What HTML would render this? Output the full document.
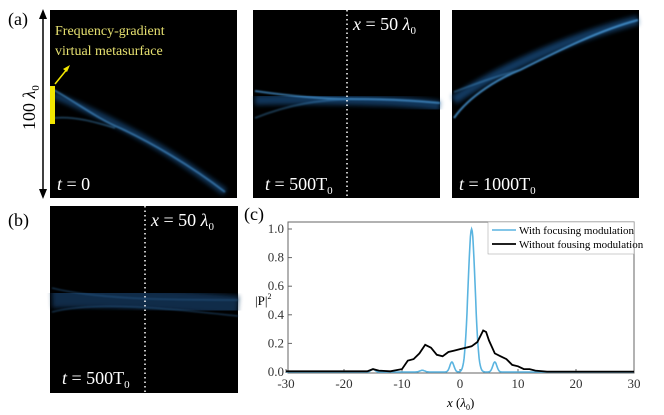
<!DOCTYPE html><html><head><style>
body{margin:0;background:#fff;width:664px;height:410px;overflow:hidden;font-family:"Liberation Serif","Times New Roman",Times,serif}
svg,svg text,svg tspan{font-family:"Liberation Serif","Times New Roman",Times,serif}
</style></head><body>
<svg id="s" width="664" height="410" viewBox="0 0 664 410" xmlns="http://www.w3.org/2000/svg" font-family="'Liberation Serif','Times New Roman',serif">
<defs>
<filter id="b1" x="-20%" y="-50%" width="140%" height="200%"><feGaussianBlur stdDeviation="2.5"/></filter>
<filter id="b2" x="-20%" y="-50%" width="140%" height="200%"><feGaussianBlur stdDeviation="0.8"/></filter>
</defs>
<rect x="50" y="10" width="187" height="188" fill="#000"/>
<g filter="url(#b1)" stroke="#1d5a96" fill="none" stroke-width="7" opacity="0.6">
<path d="M54 95 C90 110,130 130,160 148 C185 163,205 178,225 192"/></g>
<g filter="url(#b2)" stroke="#4c9ddc" fill="none" stroke-width="1.8">
<path d="M54 90 C80 105,100 120,120 128 C150 142,190 165,225 192" opacity="0.6"/>
<path d="M54 118 C75 116,95 122,115 128" opacity="0.4"/></g>
<rect x="50" y="86" width="5" height="38" fill="#f2e600"/>
<line x1="55" y1="84" x2="68" y2="68" stroke="#f2e600" stroke-width="1.5"/>
<polygon points="70,65 63,69 67,72" fill="#f2e600"/>
<text x="55" y="35" fill="#e6e070" font-size="14">Frequency-gradient</text>
<text x="55" y="55" fill="#e6e070" font-size="14">virtual metasurface</text>
<text x="57" y="190" fill="#fff" font-size="18"><tspan font-style="italic">t</tspan> = 0</text>
<line x1="43" y1="16" x2="43" y2="192" stroke="#000" stroke-width="1.5"/>
<polygon points="43,9 39,19 47,19" fill="#000"/><polygon points="43,199 39,189 47,189" fill="#000"/>
<text transform="translate(35,130) rotate(-90)" font-size="18" fill="#000">100 <tspan font-style="italic">λ</tspan><tspan font-size="11" dy="4">0</tspan></text>
<text x="8" y="25" font-size="18">(a)</text>
<rect x="253" y="10" width="187" height="188" fill="#000"/>
<g filter="url(#b1)" stroke="#1d5a96" fill="none" stroke-width="10" opacity="0.6">
<path d="M255 100 C300 99,400 99,440 106"/></g>
<g filter="url(#b2)" stroke="#4c9ddc" fill="none" stroke-width="2" opacity="0.7">
<path d="M255 91 C290 96,320 99,350 99 C380 99,410 100,440 103"/>
<path d="M255 118 C290 104,320 100,350 99" opacity="0.5"/></g>
<line x1="347" y1="10" x2="347" y2="198" stroke="#fff" stroke-width="1.5" stroke-dasharray="1.5,3"/>
<text x="353" y="30" fill="#fff" font-size="18"><tspan font-style="italic">x</tspan> = 50 <tspan font-style="italic">λ</tspan><tspan font-size="11" dy="4">0</tspan></text>
<text x="265" y="190" fill="#fff" font-size="18"><tspan font-style="italic">t</tspan> = 500T<tspan font-size="11" dy="4">0</tspan></text>
<rect x="452" y="10" width="187" height="188" fill="#000"/>
<g filter="url(#b1)" stroke="#1d5a96" fill="none" stroke-width="9" opacity="0.65">
<path d="M454 100 C490 75,560 40,638 20"/></g>
<g filter="url(#b2)" stroke="#4c9ddc" fill="none" stroke-width="2" opacity="0.8">
<path d="M454 118 C470 95,500 78,520 70 C560 50,600 30,638 20"/>
<path d="M454 92 C480 82,500 75,520 70" opacity="0.5"/></g>
<text x="459" y="190" fill="#fff" font-size="18"><tspan font-style="italic">t</tspan> = 1000T<tspan font-size="11" dy="4">0</tspan></text>
<rect x="50" y="206" width="188" height="187" fill="#000"/>
<g filter="url(#b1)" stroke="#123a62" fill="none" stroke-width="20" opacity="0.75">
<path d="M52 298 C100 296,180 300,238 306"/></g>
<g filter="url(#b2)" stroke="#2a5f8f" fill="none" stroke-width="1.5" opacity="0.5">
<path d="M52 288 C100 300,180 300,238 300"/><path d="M52 312 C100 300,180 310,238 316"/></g>
<line x1="145" y1="206" x2="145" y2="393" stroke="#fff" stroke-width="1.5" stroke-dasharray="1.5,3"/>
<text x="151" y="226" fill="#fff" font-size="18"><tspan font-style="italic">x</tspan> = 50 <tspan font-style="italic">λ</tspan><tspan font-size="11" dy="4">0</tspan></text>
<text x="62" y="384" fill="#fff" font-size="18"><tspan font-style="italic">t</tspan> = 500T<tspan font-size="11" dy="4">0</tspan></text>
<text x="8" y="226" font-size="18">(b)</text>
<text x="244" y="220" font-size="18">(c)</text>
<rect x="288" y="222" width="346" height="151" fill="none" stroke="#666" stroke-width="1"/>
<g id="ticks" font-size="13" fill="#333"></g>
<text x="255" y="305" font-size="13">|P|<tspan font-size="8" dy="-6">2</tspan></text>
<text x="447" y="407" font-size="13"><tspan font-style="italic">x</tspan> (<tspan font-style="italic">λ</tspan><tspan font-size="8" dy="3">0</tspan><tspan dy="-3">)</tspan></text>
<path id="bl" fill="none" stroke="#5ab4e0" stroke-width="1.6"/>
<path id="bk" fill="none" stroke="#000" stroke-width="1.8"/>
<rect x="488" y="222" width="146" height="32" fill="#fff" stroke="#999" stroke-width="0.5"/>
<line x1="492" y1="230" x2="516" y2="230" stroke="#5ab4e0" stroke-width="1.6"/>
<text x="519" y="234" font-size="11">With focusing modulation</text>
<line x1="492" y1="244" x2="516" y2="244" stroke="#000" stroke-width="1.8"/>
<text x="519" y="248" font-size="11">Without fousing modulation</text>
</svg>
<script>
var X=v=>460+v*5.8,Y=v=>372-v*143;
var bk=[[-30,.005],[-20,.005],[-16,.005],[-15,.02],[-14,.01],[-12,.005],[-10,.02],[-9,.08],[-8,.09],[-7,.13],[-6,.19],[-5,.17],[-4,.12],[-3,.11],[-2,.14],[-1,.15],[0,.16],[1,.17],[2,.18],[3,.21],[4,.29],[4.5,.28],[5,.22],[6,.13],[7,.11],[8,.09],[9,.05],[10,.04],[11,.02],[12,.02],[13,.01],[15,.003],[30,.003]];
function p(a){return a.map((q,i)=>(i?'L':'M')+X(q[0]).toFixed(1)+' '+Y(q[1]).toFixed(1)).join('')}
document.getElementById('bk').setAttribute('d',p(bk));
var bl=[];for(var x=-30;x<=30;x+=0.1){var v=Math.exp(-Math.pow((x-2)/0.85,2));v+=0.07*Math.exp(-Math.pow((x+1.4)/0.5,2))+0.07*Math.exp(-Math.pow((x-6)/0.5,2))+0.02*Math.exp(-Math.pow((x+15)/0.5,2))+0.012*Math.exp(-Math.pow((x+6.5)/0.6,2));bl.push([x,v]);}
document.getElementById('bl').setAttribute('d',p(bl));
var g=document.getElementById('ticks'),s='';
for(var i=-30;i<=30;i+=10){s+='<line x1="'+X(i)+'" y1="373" x2="'+X(i)+'" y2="369" stroke="#666"/><text x="'+X(i)+'" y="388" text-anchor="middle">'+i+'</text>';}
for(var j=0;j<=5;j++){var v=j*0.2;s+='<line x1="288" y1="'+Y(v)+'" x2="292" y2="'+Y(v)+'" stroke="#666"/><text x="284" y="'+(Y(v)+4)+'" text-anchor="end">'+v.toFixed(1)+'</text>';}
g.innerHTML=s;
</script>
</body></html>
